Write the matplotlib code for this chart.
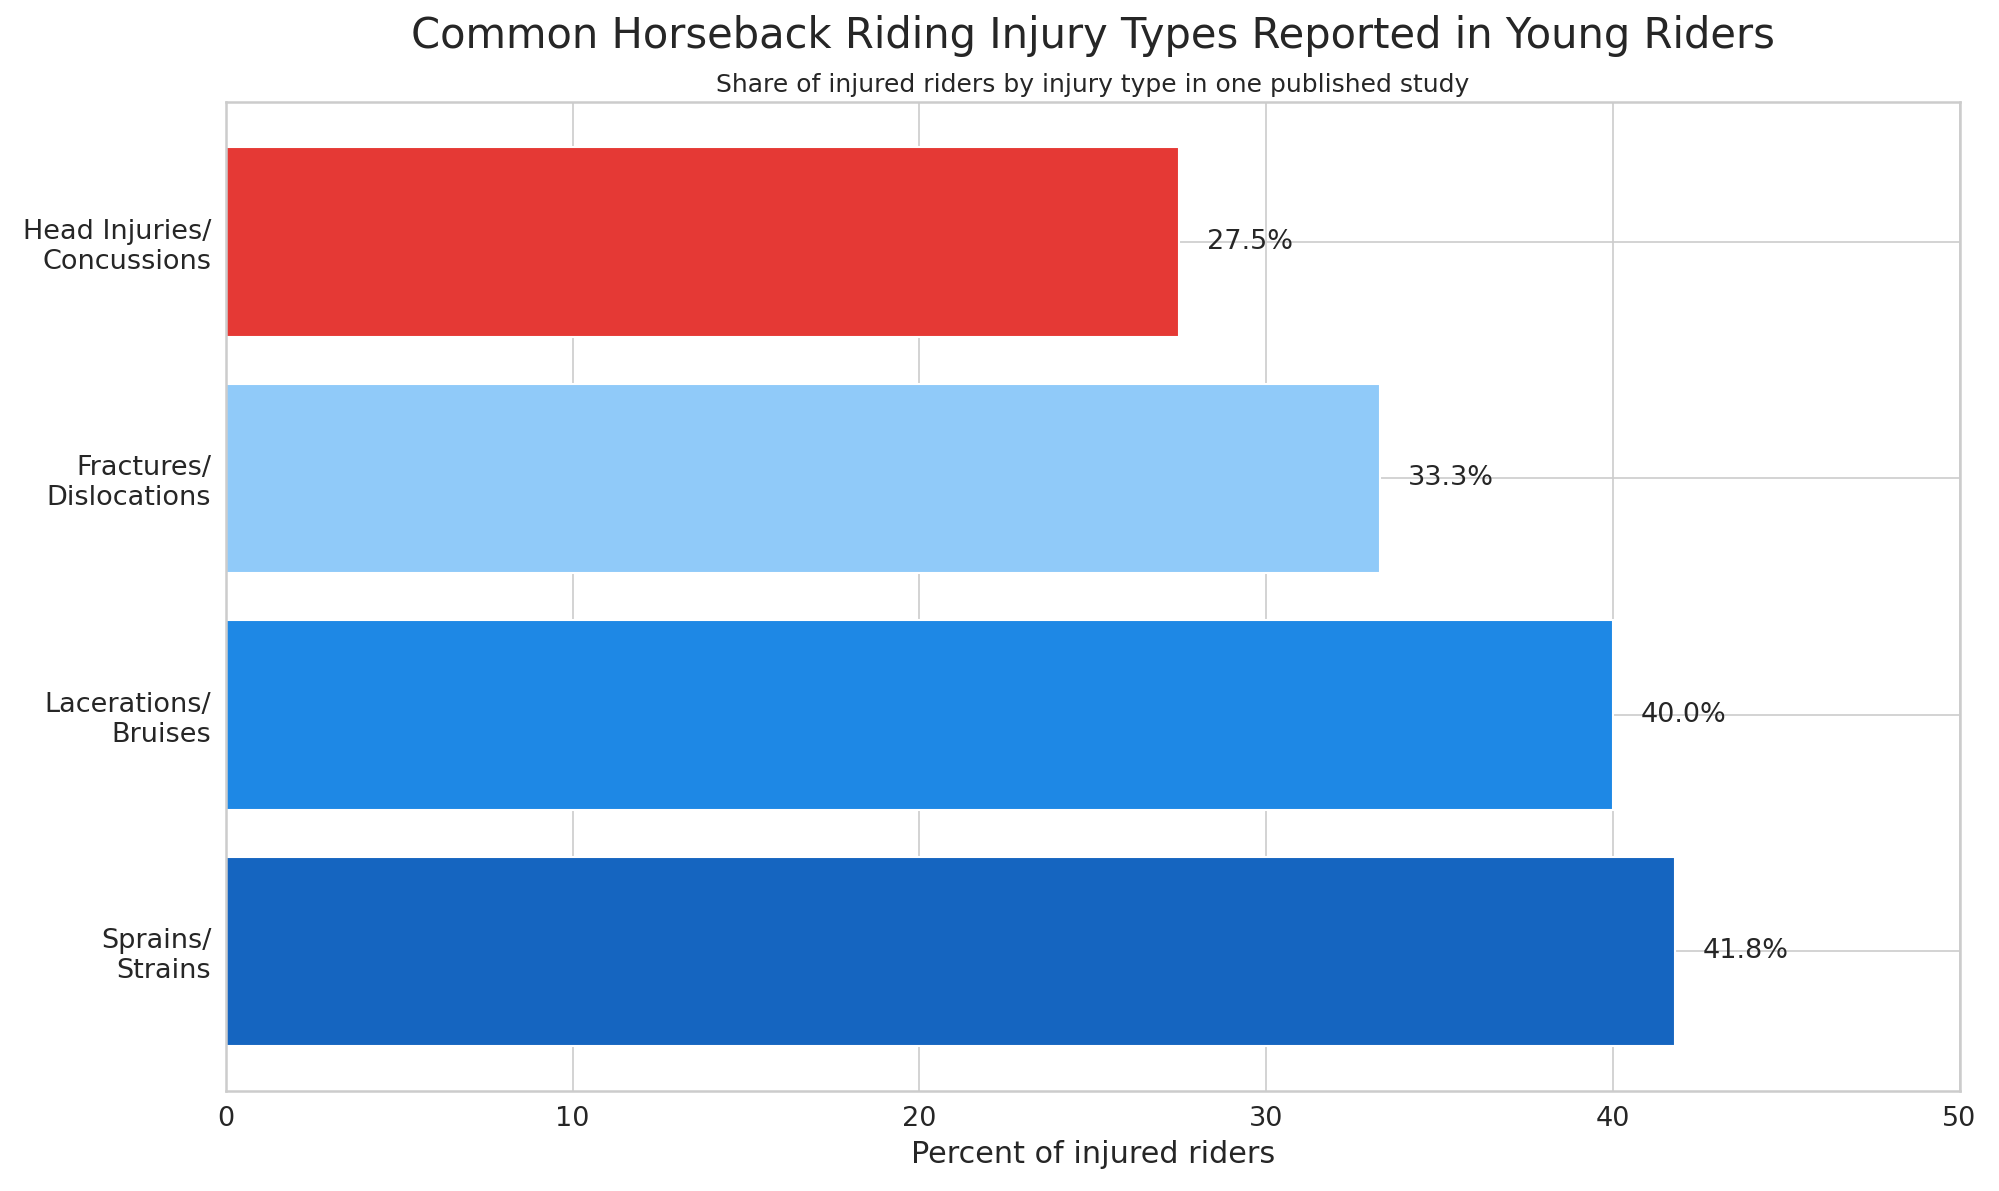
import matplotlib
matplotlib.use("Agg")
import matplotlib.pyplot as plt
import seaborn as sns

categories = ["Sprains/\nStrains", "Lacerations/\nBruises", "Fractures/\nDislocations", "Head Injuries/\nConcussions"]
percents = [41.8, 40.0, 33.3, 27.5]
colors = ["#1565C0", "#1E88E5", "#90CAF9", "#E53935"]

sns.set_style("whitegrid")
plt.rcParams['font.family'] = ['DejaVu Sans']

fig, ax = plt.subplots(figsize=(13.33, 7.94), dpi=150)
fig.subplots_adjust(left=0.113, right=0.980, top=0.914, bottom=0.084)

ypos = range(len(categories))
ax.barh(ypos, percents, height=0.8, color=colors)
for y, v in zip(ypos, percents):
    ax.text(v + 0.8, y, f"{v:.1f}%", va="center", ha="left", fontsize=13, color="#262626")

ax.set_yticks(list(ypos))
ax.set_yticklabels(categories, fontsize=13)
ax.set_xlim(0, 50)
ax.set_xticks([0, 10, 20, 30, 40, 50])
ax.tick_params(axis="x", labelsize=13)
ax.set_xlabel("Percent of injured riders", fontsize=14.5)

for s in ax.spines.values():
    s.set_color("#cccccc")
    s.set_linewidth(1.2)

# main title centred over the axes, subtitle as the axes title
ax.text(0.5, 1.067, "Common Horseback Riding Injury Types Reported in Young Riders",
        transform=ax.transAxes, ha="center", va="center", fontsize=20, color="#262626")
ax.set_title("Share of injured riders by injury type in one published study", fontsize=12, pad=5, color="#262626")

fig.savefig("out.png", dpi=150)
